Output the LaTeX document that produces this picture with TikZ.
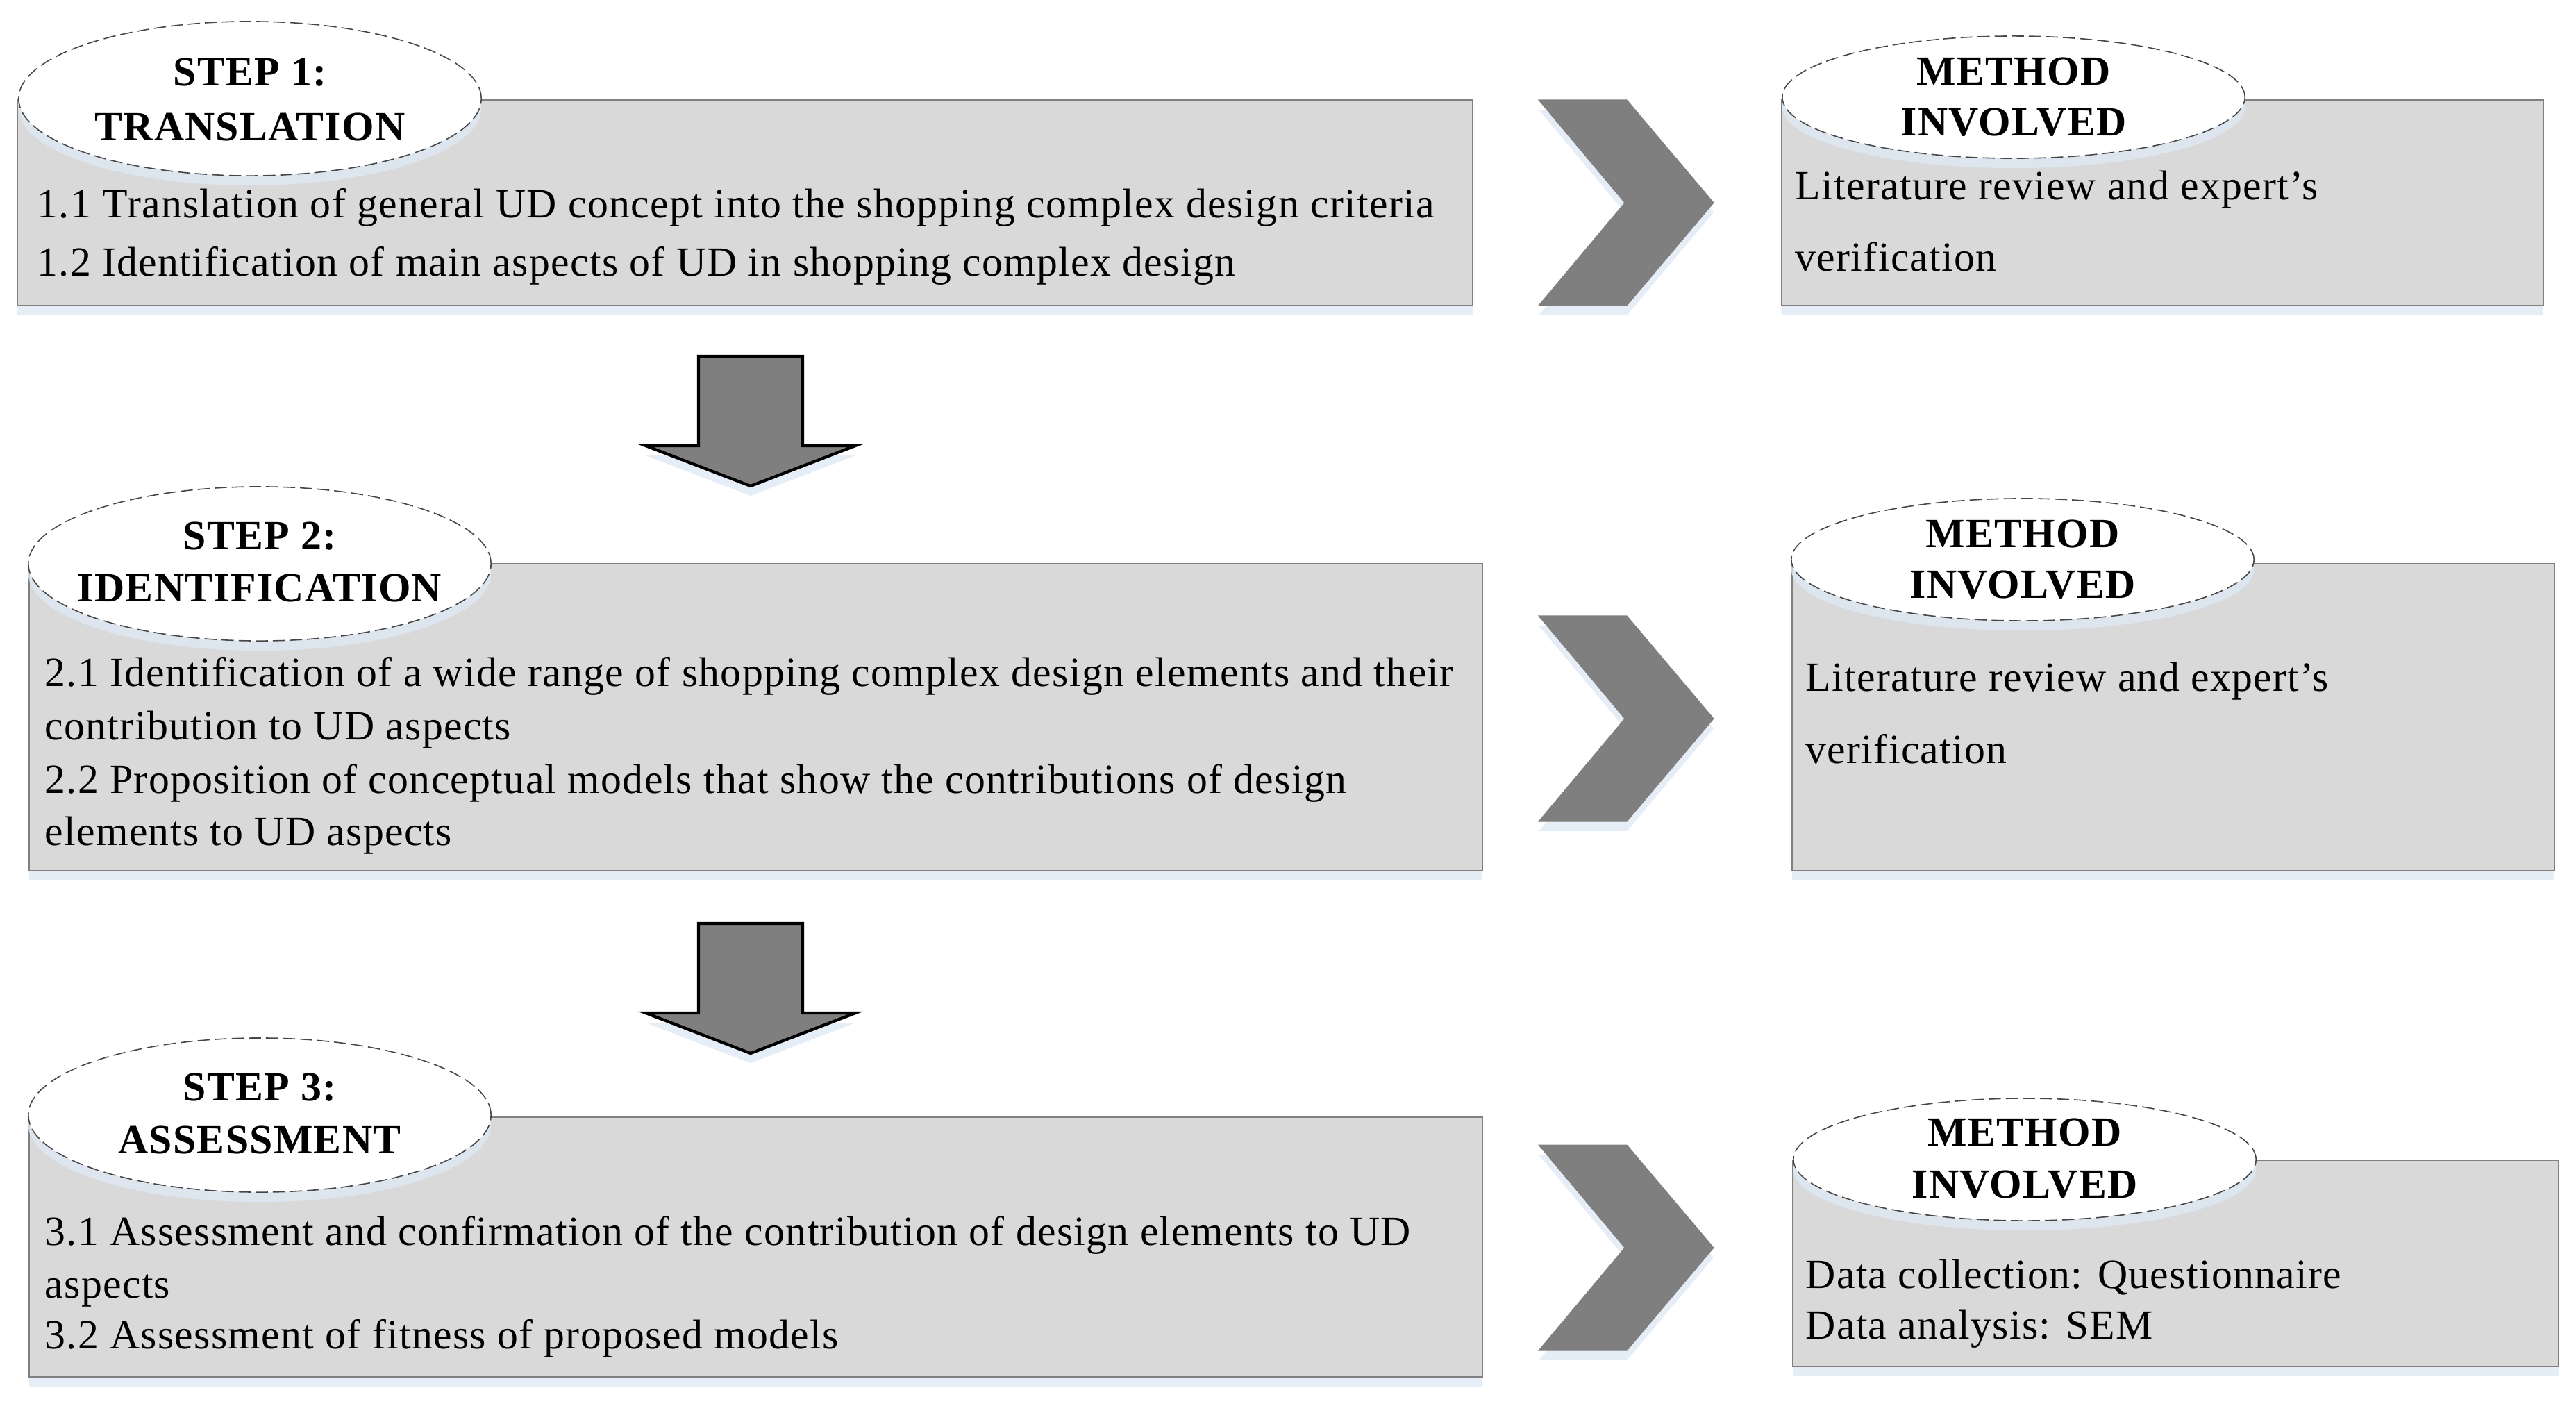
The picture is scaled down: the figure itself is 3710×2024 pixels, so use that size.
\documentclass[tikz,border=0pt]{standalone}
\usepackage{fontspec}
\setmainfont[LetterSpace=2.2]{Liberation Serif}
\usetikzlibrary{shapes.geometric,shadows}
\definecolor{boxfill}{RGB}{217,217,217}
\definecolor{boxline}{RGB}{128,128,128}
\definecolor{arrowfill}{RGB}{127,127,127}
\definecolor{shadowc}{RGB}{222,233,245}
\definecolor{ellline}{RGB}{70,70,70}
\begin{document}
\begin{tikzpicture}[x=0.01cm,y=-0.01cm,
  shad/.style={drop shadow={shadow xshift=0pt,shadow yshift=-4pt,fill=shadowc,opacity=0.8}},
  stepbox/.style={rectangle,draw=boxline,line width=0.6pt,fill=boxfill,inner sep=0pt,shad},
  stepell/.style={ellipse,draw=ellline,line width=0.45pt,dash pattern=on 5pt off 2pt,fill=white,
     minimum width=6.66cm,minimum height=2.22cm,inner sep=0pt,shad},
  methell/.style={stepell,minimum height=1.76cm},
  chev/.style={fill=arrowfill,draw=arrowfill,line width=0.3pt,shad},
  downarr/.style={fill=arrowfill,draw=black,line width=1.2pt,line join=miter,shad},
  txt/.style={anchor=base west,inner sep=0pt,font=\fontsize{17}{20}\selectfont},
  ttl/.style={anchor=base,inner sep=0pt,font=\fontsize{17}{20}\selectfont\bfseries},
]
\useasboundingbox (0,0) rectangle (3710,2024);

% ---------- Step boxes ----------
\node[stepbox,minimum width=20.94cm,minimum height=2.96cm] (b1) at (1073,292) {};
\node[stepbox,minimum width=20.91cm,minimum height=4.42cm] (b2) at (1088.5,1033) {};
\node[stepbox,minimum width=20.91cm,minimum height=3.74cm] (b3) at (1088.5,1796) {};

% ---------- Method boxes ----------
\node[stepbox,minimum width=10.97cm,minimum height=2.96cm] (m1) at (3114.5,292) {};
\node[stepbox,minimum width=10.98cm,minimum height=4.42cm] (m2) at (3130,1033) {};
\node[stepbox,minimum width=11.03cm,minimum height=2.97cm] (m3) at (3133.5,1819.5) {};

% ---------- Ellipses ----------
\node[stepell] (e1) at (360,142) {};
\node[stepell] (e2) at (374,812) {};
\node[stepell] (e3) at (374,1606) {};
\node[methell] (f1) at (2900,140) {};
\node[methell] (f2) at (2913,806) {};
\node[methell] (f3) at (2916,1670) {};

% ---------- Ellipse titles ----------
\node[ttl] (e1a) at (360,123) {STEP 1:};
\node[ttl] (e1b) at (360,202) {TRANSLATION};
\node[ttl] (e2a) at (374,791) {STEP 2:};
\node[ttl] (e2b) at (374,866) {IDENTIFICATION};
\node[ttl] (e3a) at (374,1585) {STEP 3:};
\node[ttl] (e3b) at (374,1661) {ASSESSMENT};
\node[ttl] (f1a) at (2900,122) {METHOD};
\node[ttl] (f1b) at (2900,195) {INVOLVED};
\node[ttl] (f2a) at (2913,788) {METHOD};
\node[ttl] (f2b) at (2913,861) {INVOLVED};
\node[ttl] (f3a) at (2916,1650) {METHOD};
\node[ttl] (f3b) at (2916,1725) {INVOLVED};

% ---------- Step texts ----------
\node[txt] (t11) at (53,313) {1.1 Translation of general UD concept into the shopping complex design criteria};
\node[txt] (t12) at (53,397) {1.2 Identification of main aspects of UD in shopping complex design};
\node[txt] (t21) at (64,988) {2.1 Identification of a wide range of shopping complex design elements and their};
\node[txt] (t21b) at (64,1065) {contribution to UD aspects};
\node[txt] (t22) at (64,1142) {2.2 Proposition of conceptual models that show the contributions of design};
\node[txt] (t22b) at (64,1217) {elements to UD aspects};
\node[txt] (t31) at (64,1793) {3.1 Assessment and confirmation of the contribution of design elements to UD};
\node[txt] (t31b) at (64,1869) {aspects};
\node[txt] (t32) at (64,1942) {3.2 Assessment of fitness of proposed models};

% ---------- Method texts ----------
\node[txt] (u1a) at (2585,287) {Literature review and expert’s};
\node[txt] (u1b) at (2585,390) {verification};
\node[txt] (u2a) at (2600,995) {Literature review and expert’s};
\node[txt] (u2b) at (2600,1099) {verification};
\node[txt] (u3a) at (2600,1855) {Data collection: Questionnaire};
\node[txt] (u3b) at (2600,1928) {Data analysis: SEM};

% ---------- Chevrons ----------
\foreach \yy in {144,887,1649}{
  \draw[chev] (2216,\yy) -- (2343,\yy) -- (2468,\yy+148) -- (2343,\yy+296)
     -- (2216,\yy+296) -- (2340,\yy+148) -- cycle;
}

% ---------- Down block arrows ----------
\foreach \tt in {513,1330}{
  \draw[downarr] (1006,\tt) -- (1156,\tt) -- (1156,\tt+129) -- (1232,\tt+129)
     -- (1081,\tt+187) -- (930,\tt+129) -- (1006,\tt+129) -- cycle;
}
\end{tikzpicture}
\end{document}
